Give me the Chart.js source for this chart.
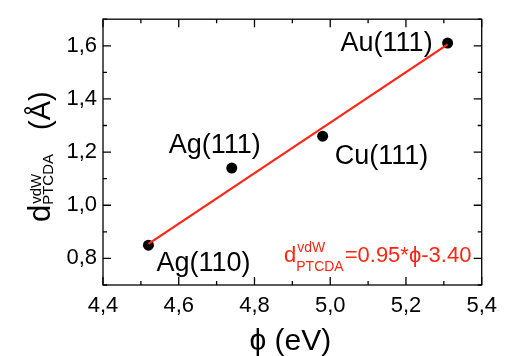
<!DOCTYPE html>
<html>
<head>
<meta charset="utf-8">
<script src="https://cdn.jsdelivr.net/npm/chart.js@4"></script>
<style>
  body { margin: 0; background: #fff; }
  #wrap { width: 505px; height: 356px; }
</style>
</head>
<body>
<div id="wrap"><canvas id="chart"></canvas></div>
<script>
// ── data ────────────────────────────────────────────────
const surfaces = ['Ag(110)', 'Ag(111)', 'Cu(111)', 'Au(111)'];
const phi = [4.52, 4.74, 4.98, 5.31];
const dvdw = [0.85, 1.14, 1.26, 1.61];
const fitPhi = [4.52, 5.31];
const fitD = [0.855, 1.605];
const xTicks = [4.4, 4.6, 4.8, 5.0, 5.2, 5.4];
const yTicks = [0.8, 1.0, 1.2, 1.4, 1.6];

const RED = 'rgb(250,38,20)';
const FONT = '"Liberation Sans", Arial, sans-serif';
const fmt = v => Number(v).toFixed(1).replace('.', ',');

// label offsets from the point, in px
const labelPos = [
  { dx: 8, dy: 26, align: 'left' },
  { dx: -17, dy: -15, align: 'center' },
  { dx: 12, dy: 28, align: 'left' },
  { dx: -15, dy: 8, align: 'right' },
];

// sub/superscript text helper
function subSup(ctx, x, y, main, sup, sub, bigPx, smallPx, supDy, subDy) {
  ctx.font = `${bigPx}px ${FONT}`;
  ctx.fillText(main, x, y);
  x += ctx.measureText(main).width;
  ctx.font = `${smallPx}px ${FONT}`;
  ctx.fillText(sup, x + 1, y + supDy);
  ctx.fillText(sub, x, y + subDy);
  return x + Math.max(ctx.measureText(sup).width, ctx.measureText(sub).width);
}

const decor = {
  id: 'decor',
  afterDraw(chart) {
    const { ctx, chartArea: a, scales: { x, y } } = chart;
    ctx.save();

    // frame + inward ticks on all sides
    ctx.strokeStyle = '#000';
    ctx.lineWidth = 1.3;
    ctx.strokeRect(a.left, a.top, a.right - a.left, a.bottom - a.top);
    const isMajor = v => Math.abs(v / 0.2 - Math.round(v / 0.2)) < 1e-6;
    ctx.beginPath();
    const nx = Math.round((x.max - x.min) / 0.1);
    for (let k = 0; k <= nx; k++) {
      const v = x.min + k * 0.1;
      const px = x.getPixelForValue(v);
      const len = isMajor(v) ? 8 : 4;
      ctx.moveTo(px, a.bottom); ctx.lineTo(px, a.bottom - len);
      ctx.moveTo(px, a.top); ctx.lineTo(px, a.top + len);
    }
    const ny = Math.round((y.max - y.min) / 0.1);
    for (let k = 0; k <= ny; k++) {
      const v = y.min + k * 0.1;
      const py = y.getPixelForValue(v);
      const len = isMajor(v) ? 8 : 4;
      ctx.moveTo(a.left, py); ctx.lineTo(a.left + len, py);
      ctx.moveTo(a.right, py); ctx.lineTo(a.right - len, py);
    }
    ctx.stroke();

    // point labels
    ctx.fillStyle = '#000';
    ctx.textBaseline = 'alphabetic';
    ctx.font = `27px ${FONT}`;
    surfaces.forEach((s, i) => {
      const p = labelPos[i];
      ctx.textAlign = p.align;
      ctx.fillText(s, x.getPixelForValue(phi[i]) + p.dx, y.getPixelForValue(dvdw[i]) + p.dy);
    });

    // fit equation
    ctx.textAlign = 'left';
    ctx.fillStyle = RED;
    const ex = subSup(ctx, a.left + 181, a.bottom - 23, 'd', 'vdW', 'PTCDA', 22, 14, -10, 9);
    ctx.font = `22px ${FONT}`;
    ctx.fillText('=0.95*\u03D5-3.40', ex + 1, a.bottom - 23);

    // x title
    ctx.fillStyle = '#000';
    ctx.textAlign = 'center';
    ctx.font = `30px ${FONT}`;
    ctx.fillText('\u03D5 (eV)', (a.left + a.right) / 2 - 2, 350);

    // y title (rotated)
    ctx.translate(50, (a.top + a.bottom) / 2 + 70);
    ctx.rotate(-Math.PI / 2);
    ctx.textAlign = 'left';
    const yx = subSup(ctx, 0, 0, 'd', 'vdW', 'PTCDA', 31, 15, -9, 3);
    ctx.font = `29px ${FONT}`;
    ctx.fillText('(\u00C5)', yx + 24, 0);

    ctx.restore();
  },
};

new Chart(document.getElementById('chart'), {
  data: {
    datasets: [
      {
        type: 'line',
        data: fitPhi.map((v, i) => ({ x: v, y: fitD[i] })),
        borderColor: RED,
        borderWidth: 2.2,
        pointRadius: 0,
        order: 0,
      },
      {
        type: 'scatter',
        data: phi.map((v, i) => ({ x: v, y: dvdw[i] })),
        backgroundColor: '#000',
        borderWidth: 0,
        pointRadius: 5.5,
        order: 1,
      },
    ],
  },
  options: {
    responsive: true,
    maintainAspectRatio: false,
    animation: false,
    layout: { padding: { left: 0, top: 16, right: 19, bottom: 0 } },
    plugins: { legend: { display: false }, tooltip: { enabled: false } },
    scales: {
      x: {
        type: 'linear',
        min: 4.4,
        max: 5.4,
        afterBuildTicks: s => { s.ticks = xTicks.map(v => ({ value: v })); },
        afterFit: s => { s.height = 71; },
        grid: { display: false, drawTicks: false },
        border: { display: false },
        ticks: {
          callback: fmt, padding: 8, maxRotation: 0, autoSkip: false,
          color: '#000', font: { family: FONT, size: 22 },
        },
      },
      y: {
        type: 'linear',
        min: 0.7,
        max: 1.7,
        afterBuildTicks: s => { s.ticks = yTicks.map(v => ({ value: v })); },
        afterFit: s => { s.width = 103; },
        grid: { display: false, drawTicks: false },
        border: { display: false },
        ticks: {
          callback: fmt, padding: 6, autoSkip: false,
          color: '#000', font: { family: FONT, size: 22 },
        },
      },
    },
  },
  plugins: [decor],
});
</script>
</body>
</html>
